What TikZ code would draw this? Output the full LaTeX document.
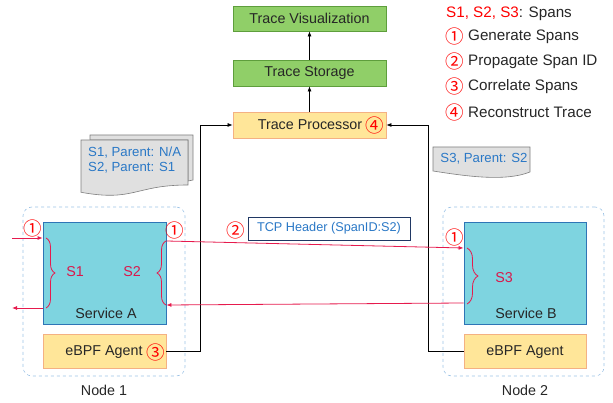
\documentclass[tikz,border=0pt]{standalone}
\usepackage{fontspec}
\setmainfont{Liberation Sans}
\newfontfamily\circfont{Noto Sans CJK SC}
\usetikzlibrary{arrows.meta,decorations.pathreplacing}
\definecolor{grfill}{HTML}{90CF68}
\definecolor{grborder}{HTML}{5E9E3C}
\definecolor{yfill}{HTML}{FFE699}
\definecolor{yborder}{HTML}{F4B183}
\definecolor{cyfill}{HTML}{7ED4E0}
\definecolor{cyborder}{HTML}{2E75B6}
\definecolor{ndborder}{HTML}{9DC3E6}
\definecolor{redline}{HTML}{E61A4D}
\definecolor{redtxt}{HTML}{D9184B}
\definecolor{bluetxt}{HTML}{2A78C6}
\definecolor{docfill}{HTML}{E0E0E0}
\definecolor{docborder}{HTML}{7F7F7F}
\definecolor{tcpborder}{HTML}{203864}
\definecolor{txtgray}{HTML}{262626}
\begin{document}
\begin{tikzpicture}[x=1pt,y=-1pt,
  txt/.style={inner sep=0pt, text=txtgray, font=\fontsize{14.3}{16}\selectfont},
  legtxt/.style={txt, anchor=west, font=\fontsize{15.2}{17}\selectfont},
  smalltxt/.style={inner sep=0pt, font=\fontsize{13.2}{14.5}\selectfont},
  circ/.style={inner sep=0pt, text=red, font=\circfont\fontsize{18.5}{20}\selectfont},
  greenbox/.style={rectangle, draw=grborder, fill=grfill, line width=0.8pt, inner sep=0pt, minimum width=153pt, minimum height=25pt, text=txtgray, font=\fontsize{14.3}{16}\selectfont},
  yellowbox/.style={rectangle, draw=yborder, fill=yfill, line width=0.8pt, inner sep=0pt},
  svcbox/.style={rectangle, draw=cyborder, fill=cyfill, line width=0.8pt, inner sep=0pt},
  nodebox/.style={rectangle, draw=ndborder, dashed, rounded corners=9pt, line width=0.6pt, inner sep=0pt},
  conn/.style={draw=black, line width=0.7pt, -{Latex[length=5pt,width=4pt]}},
  redarr/.style={draw=redline, line width=0.8pt, -{Latex[length=5pt,width=4pt]}},
  bracestyle/.style={draw=redline, line width=0.8pt, decorate},
  docstyle/.style={draw=docborder, fill=docfill, line width=0.6pt}
]
\useasboundingbox (0,0) rectangle (613,403);

% node containers
\node[nodebox, minimum width=162pt, minimum height=169pt] (n1) at (104,291.5) {};
\node[nodebox, minimum width=161pt, minimum height=169pt] (n2) at (523.5,291.5) {};
\node[txt] (n1l) at (104,390) {Node 1};
\node[txt] (n2l) at (525,390) {Node 2};

% top boxes
\node[greenbox] (vis) at (309.5,18.5) {Trace Visualization};
\node[greenbox, minimum height=26pt] (store) at (309.5,73) {Trace Storage};
\node[yellowbox, minimum width=153pt, minimum height=26pt] (proc) at (309.5,125) {};
\node[txt] (proct) at (310,125) {Trace Processor};
\node[circ] (c4p) at (375,125) {④};
\draw[conn] (store.north) -- (vis.south);
\draw[conn] (proc.north) -- (store.south);

% services
\node[svcbox, minimum width=123pt, minimum height=102pt] (svcA) at (104.5,273) {};
\node[txt] (svcAl) at (106,313) {Service A};
\node[yellowbox, minimum width=123pt, minimum height=34pt] (agA) at (104.5,351) {};
\node[txt] (agAl) at (104,352) {eBPF Agent};
\node[circ] (c3) at (156,352) {③};

\node[svcbox, minimum width=122pt, minimum height=102pt] (svcB) at (525,273) {};
\node[txt] (svcBl) at (526,313) {Service B};
\node[yellowbox, minimum width=122pt, minimum height=34pt] (agB) at (525,351) {};
\node[txt] (agBl) at (525,352) {eBPF Agent};

% agent connectors
\coordinate (jA) at (200,351);
\coordinate (jB) at (428,351);
\draw[conn] (agA.east) -- (jA) |- (proc.west);
\draw[conn] (agB.west) -- (jB) |- (proc.east);

% red flow
\coordinate (inA) at (12,238);
\coordinate (outA) at (12,308);
\coordinate (yA1) at (0,241);
\coordinate (yB1) at (0,248);
\coordinate (yB2) at (0,303);
\coordinate (yA2) at (0,305);
\draw[redarr] (inA) -- (svcA.west |- inA);
\draw[redarr] (svcA.west |- outA) -- (outA);
\draw[redarr] (svcA.east |- yA1) -- (svcB.west |- yB1);
\draw[redarr] (svcB.west |- yB2) -- (svcA.east |- yA2);

% braces
\draw[bracestyle, decoration={brace, amplitude=9pt}] (46,238) -- (46,308);
\draw[bracestyle, decoration={brace, amplitude=9pt}] (166,305) -- (166,241);
\draw[bracestyle, decoration={brace, amplitude=11pt}] (467,248) -- (467,304);
\node[txt, text=redtxt] (s1) at (75,272) {S1};
\node[txt, text=redtxt] (s2) at (132,272) {S2};
\node[txt, text=redtxt] (s3) at (504,278) {S3};

% circled markers
\node[circ] (c1a) at (33,228.5) {①};
\node[circ] (c1b) at (175,230) {①};
\node[circ] (c2) at (236,230) {②};
\node[circ] (c1c) at (455,237) {①};

% TCP header
\node[rectangle, draw=tcpborder, line width=0.7pt, minimum width=162pt, minimum height=23pt, inner sep=0pt, text=bluetxt, font=\fontsize{12.7}{14}\selectfont] (tcp) at (329,228.5) {TCP Header (SpanID:S2)};

% left multi-document
\draw[docstyle] (90,135) -- (193,135) -- (193,180) -- (188,181) -- (188,140) -- (90,140) -- cycle;
\draw[docstyle] (81,140) -- (188,140) -- (188,185) .. controls (134.5,185) and (134.5,202) .. (81,192.3) -- cycle;
\node[smalltxt, text=bluetxt, align=left, anchor=west] (docA) at (88,160) {S1, Parent: N/A\\S2, Parent: S1};

% right document
\draw[docstyle] (433,147) -- (530,147) -- (530,172) .. controls (505,182) and (465,176) .. (433,171) -- cycle;
\node[smalltxt, text=bluetxt] (docB) at (484,159) {S3, Parent: S2};

% legend
\node[legtxt] (leg0) at (446,14) {\textcolor{red}{S1, S2, S3}: Spans};
\node[circ] (l1) at (454.5,36) {①};
\node[legtxt] (l1t) at (468,37) {Generate Spans};
\node[circ] (l2) at (454.5,61.5) {②};
\node[legtxt] (l2t) at (468,62) {Propagate Span ID};
\node[circ] (l3) at (454.5,86.5) {③};
\node[legtxt] (l3t) at (468,87) {Correlate Spans};
\node[circ] (l4) at (454.5,112) {④};
\node[legtxt] (l4t) at (468,112) {Reconstruct Trace};
\end{tikzpicture}
\end{document}
